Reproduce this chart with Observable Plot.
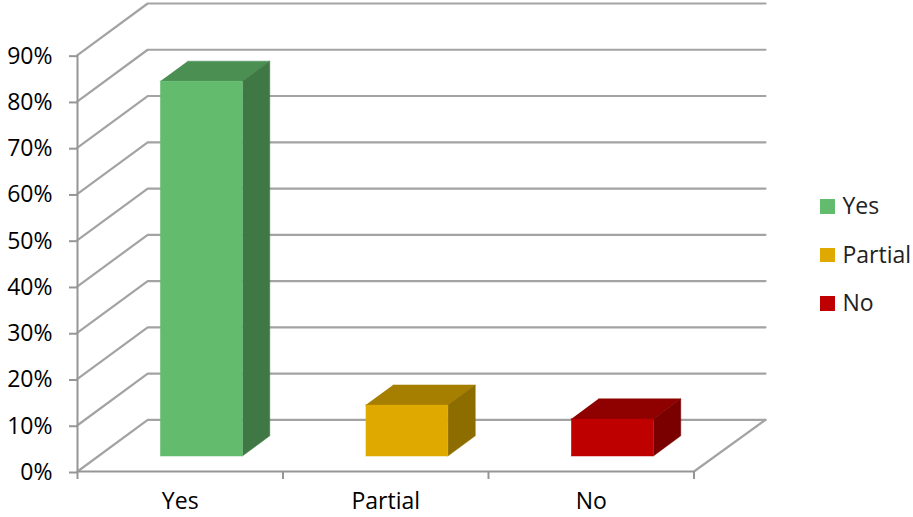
<!DOCTYPE html>
<html>
<head>
<meta charset="utf-8">
<script src="https://cdn.jsdelivr.net/npm/d3@7"></script>
<script src="https://cdn.jsdelivr.net/npm/@observablehq/plot@0.6"></script>
<style>
  html, body { margin: 0; padding: 0; background: #fff; }
  #chart { position: relative; width: 913px; height: 517px; }
  #chart svg { position: absolute; left: 0; top: 0; }
  .legend { position: absolute; left: 820px; top: 185px; font: 23px "Open Sans", sans-serif; color: #222; }
  .legend div { height: 48.5px; display: flex; align-items: flex-start; line-height: 40px; white-space: nowrap; }
  .legend i { width: 14.5px; height: 14.5px; margin: 14px 8px 0 0; display: block; }
</style>
</head>
<body>
<div id="chart"></div>
<script>
// Survey result by answer, in percent
const categories = ["Yes", "Partial", "No"];
const values = [81, 11, 8];
const frontColors = ["#63BC6E", "#DFA900", "#BF0000"];
const topColors = ["#4C8F53", "#A67F00", "#8F0000"];
const sideColors = ["#3F7845", "#8D6C00", "#7A0000"];
const valueTicks = [0, 10, 20, 30, 40, 50, 60, 70, 80, 90];
const categoryEdges = [0, 1, 2, 3];

// Oblique projection: depth 0 is the front plane, depth 1 the back wall.
// Depth shifts a point right (in category units) and up (in percent units).
const depthX = 0.3415;
const depthY = 11.17;
const backRight = 3.348;
const at = (u, v, depth) => ({x: u + depth * depthX, y: v + depth * depthY});

// Bars sit in the middle of their band and in the middle of the floor depth.
const barWidth = 0.4;
const depthNear = 0.3;
const depthFar = 0.69;

const faces = categories.flatMap((name, i) => {
  const l = i + 0.5 - barWidth / 2;
  const r = i + 0.5 + barWidth / 2;
  const v = values[i];
  const face = (suffix, fill, pts) =>
    pts.map((p) => ({...p, id: name + suffix, fill}));
  return [
    ...face("-top", topColors[i], [at(l, v, depthNear), at(r, v, depthNear), at(r, v, depthFar), at(l, v, depthFar)]),
    ...face("-side", sideColors[i], [at(r, 0, depthNear), at(r, 0, depthFar), at(r, v, depthFar), at(r, v, depthNear)]),
    ...face("-front", frontColors[i], [at(l, 0, depthNear), at(r, 0, depthNear), at(r, v, depthNear), at(l, v, depthNear)])
  ];
});

// Wall gridlines run from the value axis back along the side wall, then across the back wall.
const wallLines = valueTicks.flatMap((t) =>
  [at(0, t, 0), at(0, t, 1), {x: backRight, y: at(0, t, 1).y}].map((p) => ({...p, id: t}))
);
const floorEdge = [at(3, 0, 0), {x: backRight, y: at(0, 0, 1).y}];

const gray = "#A3A3A3";
const axisGray = "#969696";
const textColor = "#222";
const font = '"Open Sans", sans-serif';

const plot = Plot.plot({
  width: 913,
  height: 517,
  marginLeft: 77,
  marginRight: 148,
  marginTop: 3,
  marginBottom: 46,
  style: {fontFamily: font, fontSize: "23px", background: "transparent"},
  x: {domain: [0, backRight], axis: null},
  y: {domain: [0, 90 + depthY], axis: null},
  color: {type: "identity"},
  marks: [
    Plot.line(wallLines, {x: "x", y: "y", z: "id", stroke: gray, strokeWidth: 2.2}),
    Plot.line(floorEdge, {x: "x", y: "y", stroke: gray, strokeWidth: 2.2}),
    Plot.ruleX([0], {y1: 0, y2: 90, stroke: axisGray, strokeWidth: 2}),
    Plot.ruleY([0], {x1: 0, x2: 3, stroke: axisGray, strokeWidth: 2}),
    Plot.axisY(valueTicks, {
      anchor: "left",
      tickSize: 8,
      tickPadding: 17,
      strokeWidth: 2,
      stroke: axisGray,
      textFill: textColor,
      dy: 1,
      tickFormat: (d) => d + "%",
      label: null
    }),
    Plot.axisX(categoryEdges, {
      anchor: "bottom",
      tickSize: 8,
      strokeWidth: 2,
      stroke: axisGray,
      tickFormat: () => "",
      label: null
    }),
    Plot.axisX(categories.map((_, i) => i + 0.5), {
      anchor: "bottom",
      tickSize: 0,
      tickPadding: 21,
      textFill: textColor,
      tickFormat: (d) => categories[d - 0.5],
      label: null
    }),
    Plot.line(faces, {x: "x", y: "y", z: "id", fill: "fill", stroke: "fill", strokeWidth: 0.5})
  ]
});

const chart = document.getElementById("chart");
chart.append(plot);

const legend = document.createElement("div");
legend.className = "legend";
categories.forEach((name, i) => {
  const row = document.createElement("div");
  const swatch = document.createElement("i");
  swatch.style.background = frontColors[i];
  row.append(swatch, document.createTextNode(name));
  legend.append(row);
});
chart.append(legend);
</script>
</body>
</html>
